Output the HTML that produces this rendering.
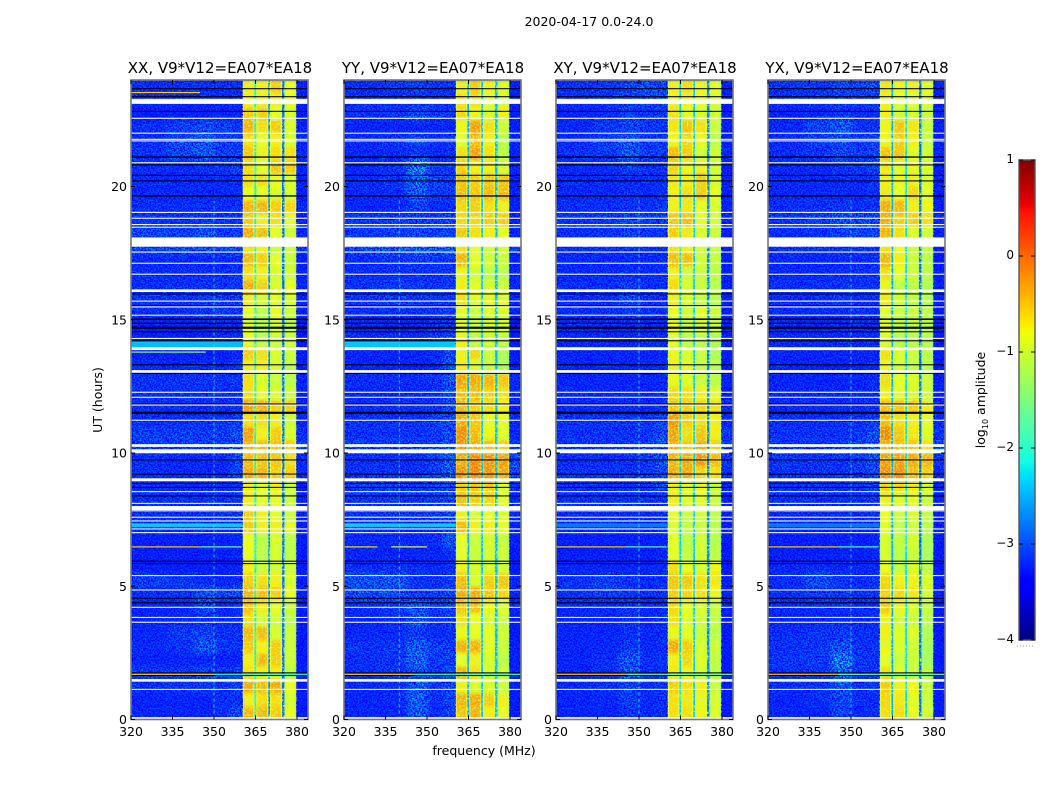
<!DOCTYPE html>
<html>
<head>
<meta charset="utf-8">
<title>2020-04-17 amplitude spectrograms</title>
<style>
html,body{margin:0;padding:0;background:#fff;}
svg{display:block;}
text{font-family:"DejaVu Sans","Liberation Sans",sans-serif;fill:#000;}
</style>
</head>
<body>
<svg id="chart" xmlns="http://www.w3.org/2000/svg" width="1050" height="800" viewBox="0 0 1050 800">
<defs>
<filter id="grain" x="0" y="0" width="100%" height="100%">
<feTurbulence type="fractalNoise" baseFrequency="0.62" numOctaves="2" seed="7"/>
<feColorMatrix type="matrix" values="0 0 0 0 0  0 0 0 0 0  0 0 0 0 1  3.2 0 0 0 -1.05"/>
</filter>
<filter id="band-grain" x="0" y="0" width="100%" height="100%">
<feTurbulence type="fractalNoise" baseFrequency="0.55" numOctaves="2" seed="11"/>
<feColorMatrix type="matrix" values="0 0 0 0 0.55  0 0 0 0 1  0 0 0 0 0.25  3.2 0 0 0 -1.5"/>
</filter>
<filter id="soft-bg" x="-5%" y="-5%" width="110%" height="110%"><feGaussianBlur stdDeviation="3 3"/></filter>
<filter id="soft-band" x="0" y="-5%" width="100%" height="110%"><feGaussianBlur stdDeviation="0 1.6"/></filter>
</defs>
<text x="589" y="26" font-size="12.5" text-anchor="middle">2020-04-17 0.0-24.0</text>
<text transform="translate(102,400) rotate(-90)" font-size="12.5" text-anchor="middle">UT (hours)</text>
<text x="484" y="755" font-size="12.5" text-anchor="middle">frequency (MHz)</text>
<text transform="translate(985,400) rotate(-90)" font-size="12.5" text-anchor="middle">log<tspan font-size="8" dy="3">10</tspan><tspan dy="-3"> amplitude</tspan></text>
<g id="panels"></g>
<g id="colorbar"></g>
</svg>
<script>
// Column edges in MHz: five background bins, four sub-bands with gaps, tail.
const freqEdges = [320,333,343,350,356,360.3,364.6,365.2,369.6,370.2,374.6,375.4,379.8,384];
const xTicks = [320,335,350,365,380];
const yTicks = [0,5,10,15,20];
const colorbarTicks = [1,0,-1,-2,-3,-4];
const rowHours = 0.5;
const bandEdgeDrop = 0.25;
const backgroundBase = -3;
const panelNames = ["XX","YY","XY","YX"];

// Each row is 0.5 h starting at t=0: [bg1,bg2,bg3,bg4,bg5,A,B,C,D,tail], log10 amplitude.
const xxCells = [
[-3,-3,-3,-2.9,-2.6,-.4,-.4,-.5,-.8,-3.1],
[-3,-3,-3,-2.9,-2.9,-.7,-.6,-.6,-.9,-3.1],
[-2.9,-2.85,-2.85,-2.9,-2.7,-.3,-.4,-.3,-.8,-3.1],
[-2.8,-2.8,-2.7,-2.8,-2.7,-.6,-.7,-.7,-1.1,-3.05],
[-3,-3,-3,-3,-3,-.7,-.4,-.5,-1,-3.1],
[-2.95,-2.85,-2.5,-2.85,-2.85,-.5,-.7,-.5,-1,-3.1],
[-2.95,-2.8,-2.7,-2.9,-2.85,-.4,-.4,-.9,-1,-3.1],
[-3,-2.95,-2.95,-2.95,-2.9,-.6,-.9,-1,-1.1,-3.1],
[-3,-3,-2.7,-3,-2.9,-.45,-.7,-.8,-1,-3.05],
[-2.9,-2.85,-2.6,-2.7,-2.6,-.35,-.4,-.5,-.8,-3],
[-2.75,-2.8,-2.95,-3,-2.95,-.5,-.6,-.7,-.9,-3.05],
[-3.05,-3.05,-3.05,-3.05,-3,-.7,-1,-.9,-1,-3.1],
[-3.05,-3.05,-3.05,-3.05,-3,-.8,-1.1,-.9,-1.1,-3.1],
[-3.05,-3.05,-3.05,-3.05,-3,-.8,-1.1,-.9,-1.1,-3.1],
[-2.9,-2.9,-2.9,-2.9,-2.85,-.5,-.7,-.7,-.8,-3.05],
[-2.9,-2.9,-2.9,-2.85,-2.8,-.5,-.7,-.8,-1,-3.05],
[-2.9,-2.9,-2.9,-2.9,-2.85,-.7,-.8,-.8,-1,-3.05],
[-2.9,-2.9,-2.9,-2.9,-2.85,-.7,-.8,-.7,-1,-3.05],
[-2.9,-2.95,-2.95,-2.95,-2.7,-.3,-.35,-.5,-.5,-2.95],
[-2.9,-2.95,-2.95,-2.95,-2.7,-.4,-.45,-.45,-.6,-2.95],
[-2.75,-2.75,-2.75,-2.75,-2.55,-.35,-.4,-.4,-.5,-2.7],
[-2.75,-2.75,-2.8,-2.8,-2.6,-.25,-.7,-.5,-.9,-2.9],
[-2.9,-2.9,-2.9,-2.9,-2.75,-.6,-.6,-.7,-1,-3],
[-2.9,-2.9,-2.9,-2.9,-2.8,-.25,-.3,-.5,-.5,-3],
[-2.9,-2.9,-2.9,-2.9,-2.85,-.6,-.8,-.9,-1,-3.05],
[-2.85,-2.85,-2.85,-2.85,-2.8,-.6,-.9,-1,-1.1,-3],
[-2.95,-2.95,-2.95,-2.95,-2.8,-.7,-.7,-.9,-1.1,-3.05],
[-3.05,-3.05,-3.05,-3.05,-2.95,-.5,-.6,-.9,-1,-3.1],
[-3.05,-3.05,-3,-2.95,-2.9,-.8,-1.1,-1,-1,-3.1],
[-3.05,-3.05,-3.05,-3,-2.95,-.8,-1.1,-.9,-1.1,-3.1],
[-2.9,-2.9,-2.85,-2.8,-2.8,-.8,-1.1,-.8,-1,-3.05],
[-2.85,-2.85,-2.85,-2.8,-2.75,-.7,-.9,-.8,-.9,-3],
[-2.9,-2.85,-2.85,-2.85,-2.8,-.3,-.5,-.9,-.8,-3],
[-2.9,-2.9,-2.9,-2.85,-2.85,-.6,-.7,-.9,-1,-3],
[-2.95,-2.95,-2.95,-2.95,-2.9,-.4,-.5,-.8,-1,-3.05],
[-2.65,-2.65,-2.65,-2.65,-2.6,-.6,-.7,-1,-1,-2.8],
[-2.7,-2.75,-2.55,-2.8,-2.75,-.3,-.4,-.8,-1,-3],
[-2.85,-2.85,-2.8,-2.85,-2.85,-.5,-.7,-.6,-.8,-3],
[-2.9,-2.9,-2.9,-2.9,-2.85,-.35,-.35,-.5,-.55,-3],
[-2.95,-2.95,-2.95,-2.95,-2.9,-.8,-.8,-.85,-.9,-3.05],
[-2.95,-2.95,-2.95,-2.95,-2.9,-.6,-.6,-.8,-.9,-3.05],
[-2.9,-2.9,-2.85,-2.85,-2.7,-.6,-.8,-.45,-.5,-3],
[-2.85,-2.7,-2.5,-2.75,-2.75,-.45,-.7,-.6,-.6,-2.95],
[-2.9,-2.7,-2.6,-2.8,-2.8,-.6,-.8,-.7,-.9,-3],
[-2.9,-2.75,-2.6,-2.75,-2.8,-.35,-.6,-.5,-.9,-3],
[-3.05,-3.05,-3.05,-3,-3,-.5,-.5,-.8,-.9,-3.1],
[-2.95,-2.95,-2.95,-2.95,-2.95,-.7,-.7,-.7,-.8,-3.05],
[-2.9,-2.9,-2.9,-2.9,-2.9,-.7,-.7,-.5,-.8,-3]
];
const yyCells = [
[-3,-3,-2.45,-2.9,-2.7,-.45,-.35,-.7,-.8,-3.1],
[-3,-2.95,-2.45,-2.9,-2.7,-.35,-.3,-.5,-.7,-3.1],
[-2.95,-2.9,-2.5,-2.85,-2.65,-.7,-.9,-.9,-1,-3.05],
[-2.9,-2.85,-2.7,-2.8,-2.65,-.35,-.6,-.9,-1,-3],
[-2.9,-2.85,-2.4,-2.8,-2.75,-.8,-.7,-.9,-1.1,-3.05],
[-2.85,-2.8,-2.45,-2.75,-2.75,-.35,-.35,-.8,-1,-3.05],
[-2.95,-2.95,-2.8,-2.95,-2.9,-.75,-.8,-.8,-.95,-3.1],
[-3,-2.9,-2.6,-2.9,-2.85,-.6,-.8,-.9,-1,-3.1],
[-2.9,-2.8,-2.55,-2.8,-2.7,-.45,-.4,-.75,-.8,-3],
[-2.65,-2.6,-2.8,-2.8,-2.7,-.3,-.3,-.45,-.55,-3],
[-2.6,-2.55,-2.85,-2.9,-2.75,-.4,-.9,-.5,-.45,-3],
[-2.9,-2.9,-2.9,-2.95,-2.9,-.7,-.9,-.9,-.95,-3.1],
[-3,-3,-3,-3,-2.85,-.8,-1,-.95,-1,-3.1],
[-2.95,-2.95,-2.95,-2.9,-2.5,-.8,-1,-.9,-1,-3.05],
[-2.95,-2.95,-2.95,-2.95,-2.8,-.4,-.7,-.7,-.8,-3.05],
[-2.85,-2.85,-2.85,-2.8,-2.75,-.7,-.9,-.8,-.9,-3],
[-2.85,-2.85,-2.85,-2.8,-2.75,-.4,-.5,-.55,-.8,-3],
[-2.75,-2.75,-2.75,-2.7,-2.6,-.5,-.45,-.5,-.8,-2.85],
[-2.85,-2.85,-2.85,-2.75,-2.5,-.15,-.1,-.2,-.3,-2.7],
[-2.9,-2.9,-2.9,-2.75,-2.45,-.3,-.1,-.15,-.25,-2.65],
[-2.75,-2.75,-2.75,-2.7,-2.5,-.15,-.3,-.4,-.5,-2.85],
[-2.85,-2.85,-2.85,-2.8,-2.6,-.15,-.4,-.75,-.8,-2.95],
[-2.85,-2.85,-2.85,-2.8,-2.65,-.3,-.45,-.8,-.8,-2.95],
[-2.9,-2.9,-2.9,-2.85,-2.65,-.4,-.5,-.6,-.7,-3],
[-2.95,-2.95,-2.95,-2.9,-2.65,-.4,-.4,-.5,-.6,-3],
[-2.9,-2.9,-2.9,-2.85,-2.55,-.25,-.3,-.35,-.45,-2.95],
[-3,-3,-3,-2.95,-2.55,-.7,-.9,-1,-1.2,-3.05],
[-3,-3,-3,-2.95,-2.65,-.7,-.55,-1,-1.2,-3.1],
[-2.95,-2.95,-2.95,-2.8,-2.7,-.7,-1.1,-1,-1.1,-3.1],
[-2.95,-2.95,-2.95,-2.85,-2.8,-.8,-1,-.85,-.9,-3.1],
[-2.9,-2.9,-2.9,-2.85,-2.8,-.8,-1,-.9,-.9,-3.05],
[-2.85,-2.75,-2.85,-2.85,-2.8,-.6,-.8,-.75,-.8,-3],
[-2.85,-2.8,-2.8,-2.85,-2.8,-.7,-.8,-.9,-.95,-3],
[-2.9,-2.9,-2.9,-2.85,-2.85,-.7,-.95,-1.1,-1.1,-3],
[-2.95,-2.85,-2.75,-2.85,-2.85,-.35,-.8,-.95,-1,-3.05],
[-2.6,-2.55,-2.5,-2.5,-2.45,-.6,-.8,-.9,-.9,-2.75],
[-2.8,-2.75,-2.7,-2.75,-2.7,-.45,-.6,-.7,-.8,-3],
[-2.8,-2.8,-2.75,-2.75,-2.75,-.55,-.55,-.5,-.5,-3],
[-3,-2.95,-2.75,-2.95,-2.9,-.55,-.5,-.6,-.7,-3.05],
[-2.95,-2.9,-2.5,-2.8,-2.8,-.4,-.45,-.4,-.4,-3.05],
[-2.95,-2.85,-2.4,-2.7,-2.7,-.45,-.5,-.45,-.45,-3.05],
[-2.95,-2.85,-2.2,-2.85,-2.8,-.5,-.7,-.7,-.9,-3],
[-2.95,-2.95,-2.85,-2.95,-2.9,-.6,-.25,-.6,-1.1,-3.05],
[-2.95,-2.85,-2.7,-2.9,-2.85,-.8,-.4,-.7,-1.1,-3],
[-3,-3,-3,-3,-3,-.75,-.25,-.6,-1,-3.05],
[-2.85,-2.8,-2.65,-2.8,-2.8,-.55,-.75,-.9,-.7,-3.05],
[-2.9,-2.9,-2.9,-2.9,-2.9,-.6,-.6,-.8,-.9,-3.05],
[-2.9,-2.85,-2.75,-2.85,-2.85,-.7,-.5,-.75,-.85,-3.05]
];
const xyCells = [
[-3,-3,-2.85,-2.95,-2.9,-.6,-.6,-.75,-.9,-3.1],
[-3,-2.95,-2.75,-2.95,-2.85,-.6,-.65,-.75,-.9,-3.1],
[-2.95,-2.9,-2.75,-2.9,-2.85,-.5,-.6,-.7,-1,-3.05],
[-3,-2.9,-2.55,-2.9,-2.85,-.65,-.75,-.95,-1.1,-3.1],
[-3,-2.9,-2.5,-2.9,-2.85,-.7,-.55,-.85,-1.05,-3.1],
[-3,-2.95,-2.8,-2.95,-2.9,-.3,-.5,-.9,-1,-3.1],
[-3,-3,-2.9,-2.95,-2.9,-.75,-.8,-1,-1.1,-3.1],
[-3,-3,-2.9,-3,-2.9,-.6,-.85,-.95,-1.05,-3.1],
[-2.95,-2.95,-2.85,-2.95,-2.9,-.55,-.8,-.85,-1,-3.05],
[-2.85,-2.75,-2.85,-2.9,-2.85,-.5,-.55,-.6,-.75,-3.05],
[-2.85,-2.75,-2.85,-2.95,-2.9,-.45,-.45,-.6,-.65,-3.05],
[-3,-3,-3,-3,-2.95,-.6,-.8,-.9,-.75,-3.1],
[-3.05,-3.05,-3.05,-3.05,-3,-.8,-1.05,-.95,-1.1,-3.1],
[-3.05,-3.05,-3.05,-3.05,-3,-.8,-1.1,-.95,-1.15,-3.1],
[-2.95,-2.95,-2.95,-2.95,-2.9,-.85,-1.05,-1,-1.1,-3.05],
[-2.95,-2.95,-2.95,-2.95,-2.9,-.8,-1,-.95,-1.1,-3.05],
[-2.9,-2.9,-2.9,-2.9,-2.85,-.7,-.85,-.85,-1,-3.05],
[-2.85,-2.85,-2.85,-2.85,-2.7,-.7,-.8,-.75,-1,-2.95],
[-2.85,-2.85,-2.85,-2.8,-2.65,-.3,-.3,-.55,-.6,-2.95],
[-2.9,-2.9,-2.9,-2.85,-2.6,-.35,-.3,-.2,-.4,-2.85],
[-2.8,-2.8,-2.75,-2.7,-2.5,-.3,-.45,-.3,-.5,-2.7],
[-2.85,-2.85,-2.85,-2.85,-2.6,-.25,-.6,-.45,-.7,-2.85],
[-2.85,-2.85,-2.85,-2.85,-2.75,-.2,-.5,-.6,-.7,-2.95],
[-2.95,-2.95,-2.95,-2.95,-2.9,-.45,-.5,-.55,-.6,-3],
[-2.95,-2.95,-2.95,-2.95,-2.9,-.55,-.6,-.7,-.8,-3.05],
[-3,-3,-3,-3,-2.95,-.75,-.85,-1,-1.1,-3.05],
[-3,-3,-3,-3,-2.95,-.7,-.75,-1.05,-1.1,-3.05],
[-3,-3,-3,-3,-3,-.75,-.9,-1,-1.2,-3.1],
[-2.95,-2.95,-2.95,-2.95,-2.95,-.8,-1.1,-1.1,-1.2,-3.05],
[-2.95,-2.95,-2.95,-2.95,-2.95,-.75,-1,-.9,-1,-3.05],
[-2.9,-2.9,-2.8,-2.9,-2.9,-.8,-.95,-.8,-1,-3.05],
[-2.9,-2.9,-2.7,-2.9,-2.9,-.7,-.85,-1,-1.1,-3.05],
[-2.9,-2.9,-2.75,-2.9,-2.9,-.55,-.9,-1,-1.15,-3.05],
[-2.95,-2.95,-2.9,-2.95,-2.9,-.7,-1,-1,-1.1,-3.05],
[-2.95,-2.95,-2.95,-2.95,-2.9,-.4,-.4,-.95,-1.05,-3.1],
[-2.9,-2.9,-2.85,-2.9,-2.9,-.6,-.7,-.95,-1,-3.05],
[-2.9,-2.85,-2.75,-2.85,-2.85,-.5,-.65,-.9,-1,-3.05],
[-2.85,-2.8,-2.65,-2.8,-2.8,-.45,-.4,-.8,-.95,-3],
[-2.9,-2.9,-2.85,-2.9,-2.85,-.7,-.65,-.8,-.9,-3.05],
[-2.95,-2.95,-2.85,-2.95,-2.85,-.7,-.6,-.5,-.8,-3.05],
[-2.95,-2.95,-2.95,-2.9,-2.85,-.65,-.7,-.5,-.9,-3.05],
[-2.95,-2.9,-2.75,-2.85,-2.85,-.55,-.75,-.7,-.95,-3.05],
[-2.85,-2.8,-2.5,-2.8,-2.75,-.4,-.5,-.95,-.95,-3],
[-2.95,-2.8,-2.6,-2.85,-2.85,-.75,-.55,-.75,-1.1,-3.05],
[-2.95,-2.8,-2.7,-2.8,-2.85,-.65,-.45,-.6,-1,-3.05],
[-3,-2.95,-2.75,-2.85,-2.8,-.6,-.85,-.9,-.95,-3.05],
[-2.9,-2.85,-2.8,-2.75,-2.75,-.7,-.7,-.8,-.9,-3.05],
[-2.85,-2.85,-2.7,-2.6,-2.6,-.7,-.6,-.75,-.8,-3.05]
];
const yxCells = [
[-3,-3,-2.7,-2.95,-2.9,-.6,-.6,-.8,-.95,-3.1],
[-3,-2.9,-2.7,-2.9,-2.9,-.55,-.65,-.8,-1,-3.1],
[-2.9,-2.85,-2.6,-2.9,-2.85,-.5,-.7,-.75,-1,-3.05],
[-2.9,-2.85,-2.45,-2.85,-2.8,-.6,-.9,-1,-1.1,-3.05],
[-2.85,-2.8,-2.2,-2.85,-2.85,-.8,-1,-1,-1.25,-3.1],
[-2.85,-2.8,-2.6,-2.85,-2.85,-.75,-.9,-.95,-1.25,-3.1],
[-2.9,-2.85,-2.8,-2.9,-2.9,-.7,-.85,-.85,-1.2,-3.1],
[-3,-3,-2.95,-3,-2.9,-.7,-.95,-1,-1.1,-3.1],
[-2.95,-2.95,-2.9,-2.95,-2.9,-.5,-.75,-.9,-1.05,-3.1],
[-2.9,-2.75,-2.8,-2.9,-2.85,-.5,-.55,-.65,-.9,-3.05],
[-2.9,-2.65,-2.85,-2.9,-2.85,-.55,-.7,-.7,-.9,-3.05],
[-2.95,-2.95,-2.95,-3,-2.95,-.8,-1.05,-.9,-1.1,-3.1],
[-3.05,-3.05,-3.05,-3.05,-3,-.9,-1.1,-1,-1.25,-3.1],
[-3.05,-3.05,-3.05,-3.05,-3,-.9,-1.05,-.9,-1.2,-3.1],
[-3,-3,-3,-3,-2.95,-.85,-1.05,-.95,-1.1,-3.05],
[-2.95,-2.95,-2.95,-2.95,-2.9,-.8,-.95,-.9,-1.05,-3.05],
[-2.9,-2.9,-2.9,-2.9,-2.85,-.7,-.85,-.8,-1,-3.05],
[-2.85,-2.85,-2.85,-2.85,-2.75,-.55,-.6,-.7,-.9,-3],
[-2.85,-2.85,-2.85,-2.8,-2.65,-.15,-.15,-.4,-.5,-2.95],
[-2.85,-2.85,-2.85,-2.8,-2.6,-.25,-.25,-.3,-.35,-2.85],
[-2.8,-2.8,-2.75,-2.7,-2.45,-.3,-.4,-.45,-.6,-2.7],
[-2.85,-2.85,-2.85,-2.85,-2.6,-.1,-.45,-.65,-.85,-2.85],
[-2.9,-2.9,-2.9,-2.9,-2.8,-.4,-.6,-.7,-.8,-2.95],
[-2.95,-2.95,-2.95,-2.95,-2.85,-.4,-.45,-.5,-.65,-3],
[-2.95,-2.95,-2.95,-2.95,-2.9,-.7,-.85,-.9,-1,-3.05],
[-3,-3,-3,-3,-2.95,-.6,-.8,-.85,-1,-3.05],
[-3,-3,-3,-3,-2.95,-.75,-.95,-1.05,-1.15,-3.05],
[-3,-3,-3,-3,-3,-.6,-.85,-1,-1.1,-3.1],
[-2.95,-2.95,-2.95,-2.95,-2.95,-.85,-1.15,-1.1,-1.15,-3.1],
[-2.95,-2.95,-2.95,-2.9,-2.9,-.8,-1.05,-1.05,-1.1,-3.05],
[-2.95,-2.95,-2.95,-2.9,-2.9,-.8,-1,-1,-1.1,-3.05],
[-2.95,-2.9,-2.85,-2.9,-2.9,-.65,-.95,-1.05,-1.15,-3.05],
[-2.9,-2.9,-2.85,-2.85,-2.85,-.75,-1.1,-1.1,-1.2,-3.05],
[-2.95,-2.95,-2.9,-2.9,-2.85,-.6,-.8,-.95,-1.1,-3.05],
[-2.95,-2.95,-2.95,-2.95,-2.9,-.35,-.7,-1,-1.1,-3.1],
[-2.85,-2.85,-2.85,-2.85,-2.85,-.6,-.8,-1,-1.05,-3.05],
[-2.9,-2.85,-2.75,-2.75,-2.7,-.35,-.6,-.85,-.95,-3.05],
[-2.85,-2.75,-2.55,-2.7,-2.65,-.3,-.5,-.5,-.6,-3],
[-2.9,-2.85,-2.85,-2.9,-2.85,-.3,-.35,-.7,-.75,-3.05],
[-2.95,-2.95,-2.95,-2.95,-2.85,-.65,-.8,-.55,-.8,-3.05],
[-2.95,-2.95,-2.9,-2.9,-2.8,-.7,-.75,-.7,-.9,-3.05],
[-2.95,-2.95,-2.85,-2.85,-2.75,-.65,-.85,-.75,-.9,-3.05],
[-2.9,-2.85,-2.7,-2.75,-2.7,-.45,-.45,-.85,-.95,-3],
[-2.95,-2.8,-2.7,-2.85,-2.7,-.75,-.5,-.7,-1.05,-3.05],
[-2.95,-2.7,-2.5,-2.85,-2.85,-.75,-.45,-.65,-1,-3.05],
[-3,-2.95,-2.85,-2.95,-2.9,-.7,-.95,-.9,-1,-3.05],
[-2.9,-2.85,-2.8,-2.8,-2.8,-.7,-.8,-.8,-.9,-3.05],
[-2.85,-2.85,-2.7,-2.7,-2.65,-.65,-.75,-.7,-.85,-3.05]
];
const panelCells = [xxCells,yyCells,xyCells,yxCells];

// Sub-band gap levels (365, 370, 375 MHz) per panel.
const gapLevels = [[-2.2,-2.7,-2.9],[-2.6,-2.45,-2.5],[-2.4,-2.4,-2.8],[-2.6,-2.3,-2.9]];
// Persistent interference channel per panel (MHz) and its level.
const spikeFreqs = [350,340,350,350];
const spikeLevel = -1.9;

// Flagged time ranges, hours.
const whiteRows = [[23.1,23.29],[22.54,22.58],[21.98,22.02],[21.75,21.79],[21.69,21.73],[20.87,20.91],[19.01,19.05],[18.79,18.83],[18.55,18.59],[18.45,18.49],[17.74,18.09],[17.52,17.56],[17.1,17.14],[16.69,16.73],[16.04,16.14],[15.68,15.72],[15.46,15.5],[15.15,15.19],[14.28,14.32],[13.86,13.97],[13.01,13.11],[12.26,12.3],[12.07,12.11],[11.78,11.82],[11.21,11.25],[10.23,10.33],[9.99,10.14],[8.94,9.05],[8.53,8.57],[8.09,8.13],[7.86,8.01],[7.81,7.85],[7.57,7.61],[7.43,7.47],[7.13,7.17],[6.99,7.03],[5.38,5.42],[4.84,4.88],[4.19,4.23],[3.81,3.85],[3.63,3.67],[1.42,1.52],[1.11,1.15],[0,0.09]];
const blackRows = [[23.65,23.69],[23.35,23.39],[22.8,22.84],[21.08,21.13],[20.79,20.83],[20.4,20.44],[20.19,20.23],[19.62,19.67],[15.95,15.99],[15.51,15.55],[14.99,15.05],[14.85,14.89],[14.66,14.74],[14.53,14.57],[14.19,14.23],[13.29,13.33],[12.97,13.01],[11.82,11.86],[11.47,11.55],[9.72,9.76],[9.19,9.23],[8.84,8.88],[8.69,8.73],[8.37,8.41],[5.92,5.96],[5.83,5.87],[4.53,4.57],[4.36,4.4],[1.73,1.77],[1.63,1.67]];
// Wide-band rows brighter than the surrounding noise: [panel, start h, end h, level].
const brightRows = [[0,13.97,14.2,-2.45],[1,13.97,14.2,-2.4],[0,7.23,7.36,-2.35],[1,7.23,7.36,-2.35],[2,7.23,7.36,-2.75],[3,7.23,7.36,-2.75]];
// Narrow interference rows: [panel, hour, start MHz, end MHz, level].
const rfiRows = [
[0,23.53,320,345,-.5],[0,13.79,320,347,-1.4],[0,6.48,320,345,-.5],[0,6.48,345,360,-1.6],[0,1.7,320,350,-.5],[0,1.7,350,384,-2.1],
[1,6.48,320,332,-.6],[1,6.48,337,350,-.9],[1,1.7,320,345,-.5],[1,1.7,345,384,-2],
[2,6.48,320,345,-.5],[2,6.48,345,360,-1.7],[2,1.7,320,345,-.4],[2,1.7,345,384,-1.7],
[3,6.48,320,345,-.5],[3,6.48,345,360,-1.7],[3,1.7,320,345,-.4],[3,1.7,345,384,-1.8]
];

const SVG_NS = "http://www.w3.org/2000/svg";
const panelLeft = [131,344,556,768];
const pxPerMHz = 2.767;
const pxPerHour = 26.65;
const plotBottom = 719.5;
const plotTop = 80;
const plotWidth = 177;
const cbarTop = 160, cbarBottom = 640, cbarLeft = 1019, cbarRight = 1035;
const jetRed = [[0,0],[.35,0],[.66,1],[.89,1],[1,.5]];
const jetGreen = [[0,0],[.125,0],[.375,1],[.64,1],[.91,0],[1,0]];
const jetBlue = [[0,.5],[.11,1],[.34,1],[.65,0],[1,0]];

function lerpStops(stops,x){
  for(let i=1;i<stops.length;i++){
    if(x<=stops[i][0]){
      const a=stops[i-1],b=stops[i];
      return a[1]+(b[1]-a[1])*(x-a[0])/(b[0]-a[0]);
    }
  }
  return stops[stops.length-1][1];
}
function jet(v){
  const x=Math.max(0,Math.min(1,(v+4)/5));
  return "rgb("+Math.round(255*lerpStops(jetRed,x))+","+Math.round(255*lerpStops(jetGreen,x))+","+Math.round(255*lerpStops(jetBlue,x))+")";
}
function xScale(left,f){return left+(f-320)*pxPerMHz;}
function yScale(t){return plotBottom-t*pxPerHour;}
function node(parent,tag,attrs){
  const el=document.createElementNS(SVG_NS,tag);
  for(const k in attrs)el.setAttribute(k,attrs[k]);
  parent.appendChild(el);
  return el;
}
function colRange(c){
  if(c<5)return [freqEdges[c],freqEdges[c+1]];
  if(c<9)return [freqEdges[5+(c-5)*2],freqEdges[6+(c-5)*2]];
  return [freqEdges[12],freqEdges[13]];
}
function cellRect(parent,left,f0,f1,r,v){
  const cell=node(parent,"rect",{x:xScale(left,f0),y:yScale((r+1)*rowHours),width:xScale(left,f1)-xScale(left,f0)+.3,height:yScale(r*rowHours)-yScale((r+1)*rowHours)+.3,fill:jet(v)});
  
  
}
function drawPanel(p){
  const left=panelLeft[p];
  const defs=document.querySelector("defs");
  const bgClip=node(defs,"clipPath",{id:"bg-clip-"+p});
  node(bgClip,"rect",{x:left,y:plotTop,width:xScale(left,freqEdges[5])-left,height:plotBottom-plotTop});
  const plotClip=node(defs,"clipPath",{id:"plot-clip-"+p});
  node(plotClip,"rect",{x:left,y:plotTop,width:plotWidth,height:plotBottom-plotTop});
  const g=node(document.getElementById("panels"),"g",{});
  
  
  const base=node(g,"rect",{x:left,y:plotTop,width:plotWidth,height:plotBottom-plotTop,fill:jet(backgroundBase)});
  
  
  const clipBg=node(g,"g",{"clip-path":"url(#bg-clip-"+p+")"});
  const softBg=node(clipBg,"g",{filter:"url(#soft-bg)"});
  const clipBand=node(g,"g",{"clip-path":"url(#plot-clip-"+p+")"});
  const softBand=node(clipBand,"g",{filter:"url(#soft-band)"});
  const rows=panelCells[p];
  rows.forEach((row,r)=>{
    row.forEach((v,c)=>{
      const [f0,f1]=colRange(c);
      if(c<5){cellRect(softBg,left,f0,f1,r,v);}
      else if(c<9){
        cellRect(softBand,left,f0,f0+.5,r,v-bandEdgeDrop);
        cellRect(softBand,left,f0+.5,f1-.5,r,v);
        cellRect(softBand,left,f1-.5,f1,r,v-bandEdgeDrop);
      } else {cellRect(g,left,f0,f1,r,v);}
    });
  });
  gapLevels[p].forEach((v,i)=>{
    const f0=freqEdges[6+i*2],f1=freqEdges[7+i*2];
    const gap=node(g,"rect",{x:xScale(left,f0),y:plotTop,width:xScale(left,f1)-xScale(left,f0),height:plotBottom-plotTop,fill:jet(v)});
    
    
  });
  [[320,freqEdges[5],"grain"],[freqEdges[12],384,"grain"],[freqEdges[5],freqEdges[12],"band-grain"]].forEach(r=>{
    const gr=node(g,"rect",{x:xScale(left,r[0]),y:plotTop,width:xScale(left,r[1])-xScale(left,r[0]),height:plotBottom-plotTop,fill:"#000",filter:"url(#"+r[2]+")"});
    
    
  });
  brightRows.filter(b=>b[0]===p).forEach(b=>{
    const br=node(g,"rect",{x:left,y:yScale(b[2]),width:xScale(left,freqEdges[5])-left,height:yScale(b[1])-yScale(b[2]),fill:jet(b[3])});
    
    
  });
  const spike=node(g,"line",{x1:xScale(left,spikeFreqs[p]),x2:xScale(left,spikeFreqs[p]),y1:plotBottom,y2:plotTop+120,stroke:jet(spikeLevel),"stroke-width":1,"stroke-dasharray":"3 3",opacity:.75});
  
  
  blackRows.forEach(s=>{
    const b=node(g,"rect",{x:left,y:yScale(s[1]),width:plotWidth,height:yScale(s[0])-yScale(s[1]),fill:"#000"});
    
    
  });
  rfiRows.filter(s=>s[0]===p).forEach(s=>{
    const l=node(g,"rect",{x:xScale(left,s[2]),y:yScale(s[1])-.5,width:xScale(left,s[3])-xScale(left,s[2]),height:1.2,fill:jet(s[4])});
    
    
  });
  whiteRows.forEach(s=>{
    const w=node(g,"rect",{x:left,y:yScale(s[1]),width:plotWidth,height:yScale(s[0])-yScale(s[1]),fill:"#fff"});
    
    
  });
  const frame=node(g,"rect",{x:left,y:plotTop,width:plotWidth,height:plotBottom-plotTop,fill:"none",stroke:"#777","stroke-width":1.6});
  
  
  xTicks.forEach(f=>{
    const x=xScale(left,f);
    const t1=node(g,"line",{x1:x,x2:x,y1:plotBottom,y2:plotBottom-4,stroke:"#000","stroke-width":1});
    
    
    const t2=node(g,"line",{x1:x,x2:x,y1:plotTop,y2:plotTop+4,stroke:"#000","stroke-width":1});
    
    
    const lab=node(g,"text",{x:x,y:736,"font-size":12.5,"text-anchor":"middle"});
    lab.textContent=f;
    
    
  });
  yTicks.forEach(t=>{
    const y=yScale(t);
    const t1=node(g,"line",{x1:left,x2:left+4,y1:y,y2:y,stroke:"#000","stroke-width":1});
    
    
    const t2=node(g,"line",{x1:left+plotWidth,x2:left+plotWidth-4,y1:y,y2:y,stroke:"#000","stroke-width":1});
    
    
    const lab=node(g,"text",{x:left-4,y:y+4.5,"font-size":12.5,"text-anchor":"end"});
    lab.textContent=t;
    
    
  });
  const title=node(g,"text",{x:left+89,y:73,"font-size":15,"text-anchor":"middle"});
  title.textContent=panelNames[p]+", V9*V12=EA07*EA18";
  
  
}
function drawColorbar(){
  const g=document.getElementById("colorbar");
  const cy=v=>cbarBottom-(v+4)/5*(cbarBottom-cbarTop);
  for(let v=-4;v<1;v+=0.02){
    const s=node(g,"rect",{x:cbarLeft,y:cy(v+.02),width:cbarRight-cbarLeft,height:cy(v)-cy(v+.02)+.4,fill:jet(v+.01)});
    
    
  }
  const f=node(g,"rect",{x:cbarLeft,y:cbarTop,width:cbarRight-cbarLeft,height:cbarBottom-cbarTop,fill:"none",stroke:"#555","stroke-width":1.4});
  
  
  colorbarTicks.forEach(v=>{
    const y=cy(v);
    const t1=node(g,"line",{x1:cbarLeft,x2:cbarLeft+4,y1:y,y2:y,stroke:"#000","stroke-width":1});
    
    
    const t2=node(g,"line",{x1:cbarRight,x2:cbarRight-4,y1:y,y2:y,stroke:"#000","stroke-width":1});
    
    
    const lab=node(g,"text",{x:1014,y:y+3,"font-size":12,"text-anchor":"end"});
    lab.textContent=String(v).replace("-","\u2212");
    
    
  });
  const dots=node(g,"line",{x1:1017,x2:1035,y1:646,y2:646,stroke:"#999","stroke-width":1,"stroke-dasharray":"1 2"});
  
  
}
panelNames.forEach((n,p)=>drawPanel(p));
drawColorbar();
</script>
</body>
</html>
